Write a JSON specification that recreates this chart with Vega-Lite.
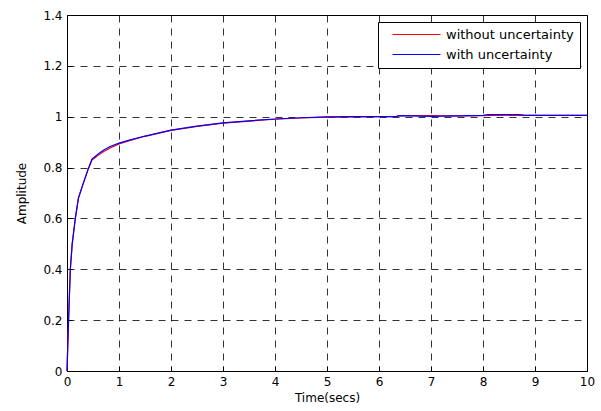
{
  "$schema": "https://vega.github.io/schema/vega-lite/v6.json",
  "width": 520,
  "height": 356,
  "autosize": {"type": "none"},
  "padding": {"left": 67, "top": 15, "right": 14, "bottom": 40},
  "background": "white",
  "config": {
    "view": {"stroke": "black", "strokeWidth": 1},
    "font": "DejaVu Sans",
    "axis": {
      "domainColor": "black",
      "tickColor": "black",
      "gridColor": "black",
      "gridDash": [7, 6],
      "gridOpacity": 0.8,
      "labelColor": "black",
      "titleColor": "black",
      "labelFontSize": 12,
      "titleFontSize": 12,
      "titleFontWeight": "normal",
      "tickSize": -5,
      "labelFont": "DejaVu Sans",
      "titleFont": "DejaVu Sans"
    }
  },
  "data": {
    "values": [
      {"t": 0, "s": "without uncertainty", "y": 0},
      {"t": 0.03, "s": "without uncertainty", "y": 0.2},
      {"t": 0.064, "s": "without uncertainty", "y": 0.4},
      {"t": 0.1, "s": "without uncertainty", "y": 0.5},
      {"t": 0.16, "s": "without uncertainty", "y": 0.6},
      {"t": 0.22, "s": "without uncertainty", "y": 0.68},
      {"t": 0.3, "s": "without uncertainty", "y": 0.73},
      {"t": 0.4, "s": "without uncertainty", "y": 0.79},
      {"t": 0.48, "s": "without uncertainty", "y": 0.83},
      {"t": 0.6, "s": "without uncertainty", "y": 0.848},
      {"t": 0.7, "s": "without uncertainty", "y": 0.862},
      {"t": 0.83, "s": "without uncertainty", "y": 0.877},
      {"t": 1.0, "s": "without uncertainty", "y": 0.893},
      {"t": 1.2, "s": "without uncertainty", "y": 0.906},
      {"t": 1.5, "s": "without uncertainty", "y": 0.923},
      {"t": 2.0, "s": "without uncertainty", "y": 0.946},
      {"t": 2.5, "s": "without uncertainty", "y": 0.962},
      {"t": 3.0, "s": "without uncertainty", "y": 0.975},
      {"t": 3.5, "s": "without uncertainty", "y": 0.983},
      {"t": 4.0, "s": "without uncertainty", "y": 0.99},
      {"t": 4.5, "s": "without uncertainty", "y": 0.995},
      {"t": 5.0, "s": "without uncertainty", "y": 0.998},
      {"t": 5.5, "s": "without uncertainty", "y": 0.999},
      {"t": 6.0, "s": "without uncertainty", "y": 1.0},
      {"t": 6.3, "s": "without uncertainty", "y": 1.0},
      {"t": 6.4, "s": "without uncertainty", "y": 1.004},
      {"t": 7.0, "s": "without uncertainty", "y": 1.004},
      {"t": 7.2, "s": "without uncertainty", "y": 1.003},
      {"t": 7.5, "s": "without uncertainty", "y": 1.003},
      {"t": 8.0, "s": "without uncertainty", "y": 1.004},
      {"t": 8.1, "s": "without uncertainty", "y": 1.005},
      {"t": 8.7, "s": "without uncertainty", "y": 1.006},
      {"t": 8.8, "s": "without uncertainty", "y": 1.005},
      {"t": 9.0, "s": "without uncertainty", "y": 1.005},
      {"t": 10.0, "s": "without uncertainty", "y": 1.005},
      {"t": 0, "s": "with uncertainty", "y": 0},
      {"t": 0.03, "s": "with uncertainty", "y": 0.2},
      {"t": 0.064, "s": "with uncertainty", "y": 0.4},
      {"t": 0.1, "s": "with uncertainty", "y": 0.5},
      {"t": 0.16, "s": "with uncertainty", "y": 0.6},
      {"t": 0.22, "s": "with uncertainty", "y": 0.68},
      {"t": 0.3, "s": "with uncertainty", "y": 0.73},
      {"t": 0.4, "s": "with uncertainty", "y": 0.79},
      {"t": 0.48, "s": "with uncertainty", "y": 0.833},
      {"t": 0.6, "s": "with uncertainty", "y": 0.853},
      {"t": 0.7, "s": "with uncertainty", "y": 0.868},
      {"t": 0.83, "s": "with uncertainty", "y": 0.883},
      {"t": 1.0, "s": "with uncertainty", "y": 0.896},
      {"t": 1.2, "s": "with uncertainty", "y": 0.908},
      {"t": 1.5, "s": "with uncertainty", "y": 0.924},
      {"t": 2.0, "s": "with uncertainty", "y": 0.947},
      {"t": 2.5, "s": "with uncertainty", "y": 0.963},
      {"t": 3.0, "s": "with uncertainty", "y": 0.976},
      {"t": 3.5, "s": "with uncertainty", "y": 0.984},
      {"t": 4.0, "s": "with uncertainty", "y": 0.991},
      {"t": 4.5, "s": "with uncertainty", "y": 0.996},
      {"t": 5.0, "s": "with uncertainty", "y": 0.999},
      {"t": 5.5, "s": "with uncertainty", "y": 1.0},
      {"t": 6.0, "s": "with uncertainty", "y": 1.0},
      {"t": 6.3, "s": "with uncertainty", "y": 1.0},
      {"t": 6.4, "s": "with uncertainty", "y": 1.004},
      {"t": 7.0, "s": "with uncertainty", "y": 1.001},
      {"t": 7.2, "s": "with uncertainty", "y": 1.002},
      {"t": 7.5, "s": "with uncertainty", "y": 1.003},
      {"t": 8.0, "s": "with uncertainty", "y": 1.005},
      {"t": 8.1, "s": "with uncertainty", "y": 1.008},
      {"t": 8.7, "s": "with uncertainty", "y": 1.008},
      {"t": 8.8, "s": "with uncertainty", "y": 1.005},
      {"t": 9.0, "s": "with uncertainty", "y": 1.005},
      {"t": 10.0, "s": "with uncertainty", "y": 1.005}
    ]
  },
  "mark": {"type": "line", "strokeWidth": 1.2},
  "encoding": {
    "x": {
      "field": "t", "type": "quantitative",
      "scale": {"domain": [0, 10], "nice": false},
      "axis": {"values": [0,1,2,3,4,5,6,7,8,9,10], "title": "Time(secs)", "labelPadding": 10, "titlePadding": 5, "labelFlush": false}
    },
    "y": {
      "field": "y", "type": "quantitative",
      "scale": {"domain": [0, 1.4], "nice": false, "zero": true},
      "axis": {"values": [0,0.2,0.4,0.6,0.8,1,1.2,1.4], "format": "~g", "title": "Amplitude", "labelPadding": 10, "titlePadding": 14, "labelFlush": false}
    },
    "color": {
      "field": "s", "type": "nominal",
      "scale": {"domain": ["without uncertainty", "with uncertainty"], "range": ["#ff0000", "#0000ff"]},
      "legend": {
        "title": null,
        "orient": "none",
        "legendX": 311,
        "legendY": 7,
        "symbolType": "M-4,0H4",
        "symbolSize": 144,
        "symbolStrokeWidth": 1,
        "symbolOffset": 26,
        "labelOffset": 23,
        "labelFontSize": 13,
        "labelColor": "black",
        "labelFont": "DejaVu Sans",
        "strokeColor": "black",
        "fillColor": "white",
        "padding": 6,
        "rowPadding": 6
      }
    },
    "order": {"field": "t"}
  }
}
